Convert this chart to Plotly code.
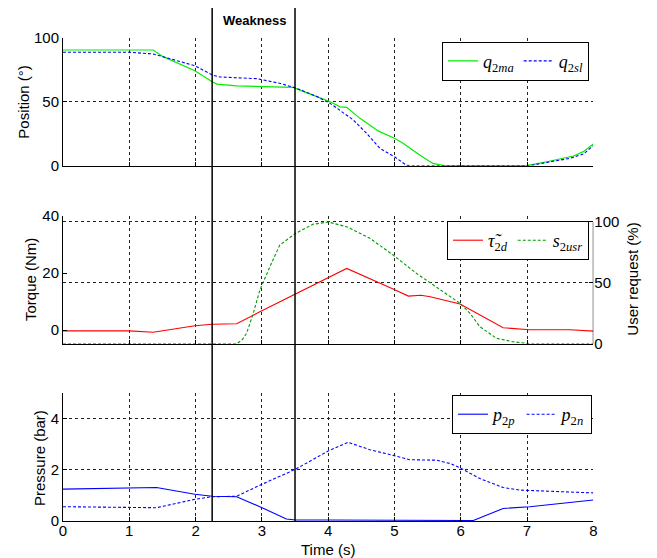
import plotly.graph_objects as go

# ---------------- data ----------------
t_q2ma = [0, 1.36, 1.51, 1.99, 2.25, 2.32, 2.62, 3.47, 3.83, 4.03, 4.18, 4.28, 4.48, 4.76, 5.0, 5.13, 5.38, 5.58, 5.75, 6.99, 7.3, 7.7, 7.85, 8.0]
q2ma = [90.4, 90.4, 85.2, 74.2, 65.6, 63.8, 62.3, 61.2, 54, 50, 46, 45.6, 37, 27, 21.4, 17.5, 8.4, 1.8, 0, 0, 3.1, 7.6, 11, 17]

t_q2sl = [0, 1.01, 1.36, 1.66, 1.99, 2.25, 2.37, 2.92, 3.27, 3.51, 3.83, 4.03, 4.38, 4.58, 4.78, 5.0, 5.18, 5.25, 7.04, 7.3, 7.65, 7.85, 8.0]
q2sl = [88.6, 88.6, 87.3, 83.1, 78.1, 70.9, 69.3, 68, 64.4, 60.7, 54, 48.7, 35.7, 25.3, 13.6, 7, 0.4, 0, 0, 2.6, 5.8, 9.1, 15.6]

t_tau = [0, 1.0, 1.36, 1.99, 2.25, 2.62, 2.97, 3.51, 4.0, 4.28, 4.98, 5.21, 5.4, 5.54, 5.99, 6.64, 7.04, 7.65, 8.0]
tau2d = [-0.3, -0.3, -0.8, 1.5, 2.0, 2.2, 6.4, 12.7, 18.5, 21.6, 14.4, 11.9, 12.2, 11.7, 9.1, 0.8, 0.1, 0.1, -0.4]

t_usr = [0, 2.62, 2.7, 2.77, 2.87, 2.97, 3.12, 3.27, 3.51, 3.77, 4.0, 4.28, 4.63, 4.98, 5.33, 5.69, 5.99, 6.14, 6.29, 6.54, 6.79, 7.04, 8.0]
s2usr = [0, 0, 3, 8.5, 24.9, 44, 63, 80.9, 90.5, 97.9, 99.8, 95.9, 86.4, 72.7, 57.7, 44, 33.1, 24.9, 13.9, 4.4, 1.6, 0, 0]

t_p2p = [0, 1.41, 1.99, 2.25, 2.62, 2.97, 3.37, 3.51, 4.0, 4.7, 6.19, 6.64, 7.04, 8.0]
p2p = [1.25, 1.31, 1.05, 0.97, 0.95, 0.56, 0.08, 0.04, 0.04, 0.03, 0.02, 0.49, 0.56, 0.82]

t_p2n = [0, 1.41, 1.99, 2.25, 2.62, 2.97, 3.51, 4.0, 4.3, 4.63, 4.98, 5.23, 5.64, 5.84, 5.99, 6.29, 6.64, 6.89, 8.0]
p2n = [0.56, 0.52, 0.85, 0.95, 0.97, 1.40, 2.03, 2.74, 3.08, 2.79, 2.57, 2.40, 2.38, 2.25, 2.08, 1.66, 1.31, 1.21, 1.10]

weakness_bounds = [2.25, 3.5]
x_ticks = [0, 1, 2, 3, 4, 5, 6, 7, 8]

# ---------------- layout helpers ----------------
W, H = 657, 558
def P(py):
    return 1 - py / H

FONT = "Liberation Sans, Arial, sans-serif"
SERIF = "Liberation Serif, Times New Roman, serif"
GRID = dict(showgrid=True, gridcolor="#222", gridwidth=1, griddash="3px,3px")
XDOM = [63 / W, 593.3 / W]

fig = go.Figure()

fig.add_trace(go.Scatter(x=t_q2ma, y=q2ma, mode="lines", line=dict(color="#00ee00", width=1.2),
                         name="<i>q</i><sub>2<i>ma</i></sub>", xaxis="x", yaxis="y", legend="legend"))
fig.add_trace(go.Scatter(x=t_q2sl, y=q2sl, mode="lines", line=dict(color="#0000ff", width=1.1, dash="3px,2px"),
                         name="<i>q</i><sub>2<i>sl</i></sub>", xaxis="x", yaxis="y", legend="legend"))

fig.add_trace(go.Scatter(x=t_tau, y=tau2d, mode="lines", line=dict(color="#ff0000", width=1.1),
                         name="<i>τ̃</i><sub>2<i>d</i></sub>", xaxis="x2", yaxis="y2", legend="legend2"))
fig.add_trace(go.Scatter(x=t_usr, y=s2usr, mode="lines", line=dict(color="#009a00", width=1.1, dash="3px,2px"),
                         name="<i>s</i><sub>2<i>usr</i></sub>", xaxis="x2", yaxis="y3", legend="legend2"))

fig.add_trace(go.Scatter(x=t_p2p, y=p2p, mode="lines", line=dict(color="#0000ff", width=1.1),
                         name="<i>p</i><sub>2<i>p</i></sub>", xaxis="x3", yaxis="y4", legend="legend3"))
fig.add_trace(go.Scatter(x=t_p2n, y=p2n, mode="lines", line=dict(color="#0000ff", width=1.1, dash="3px,2px"),
                         name="<i>p</i><sub>2<i>n</i></sub>", xaxis="x3", yaxis="y4", legend="legend3"))

xcommon = dict(domain=XDOM, range=[0, 8], tickvals=x_ticks, showline=True, linecolor="black", linewidth=1,
               ticks="inside", ticklen=4, tickcolor="black", zeroline=False, automargin=False, **GRID,
               tickfont=dict(family=FONT, size=15, color="black"))
ycommon = dict(showline=True, linecolor="black", linewidth=1, ticks="inside", ticklen=4, tickcolor="black",
               zeroline=False, automargin=False, tickfont=dict(family=FONT, size=15, color="black"))

legcommon = dict(orientation="h", bordercolor="black", borderwidth=1, bgcolor="white",
                 font=dict(family=SERIF, size=18, color="black"), xanchor="right", yanchor="top",
                 tracegroupgap=0, itemwidth=30)

fig.update_layout(
    width=W, height=H, margin=dict(l=0, r=0, t=0, b=0, autoexpand=False),
    paper_bgcolor="white", plot_bgcolor="white",
    xaxis=dict(anchor="y", showticklabels=False, **xcommon),
    xaxis2=dict(anchor="y2", showticklabels=False, **xcommon),
    xaxis3=dict(anchor="y4", showticklabels=True, ticklabelstandoff=-4, **xcommon),
    yaxis=dict(domain=[P(165.7), P(37.7)], range=[0, 100], tickvals=[0, 50, 100], anchor="x", **GRID, **ycommon),
    yaxis2=dict(domain=[P(343.7), P(216)], range=[-4.8, 40], tickvals=[0, 20, 40], anchor="x2", showgrid=False, **ycommon),
    yaxis3=dict(overlaying="y2", side="right", anchor="x2", range=[0, 104.7], tickvals=[0, 50, 100],
                showline=False, ticks="inside", ticklen=4, tickcolor="black", zeroline=False, automargin=False,
                tickfont=dict(family=FONT, size=15, color="black"), **GRID),
    yaxis4=dict(domain=[P(521), P(393.3)], range=[0, 5], tickvals=[0, 2, 4], anchor="x3", **GRID, **ycommon),
    legend=dict(x=589 / W, y=P(41.7), **legcommon),
    legend2=dict(x=589 / W, y=P(221), **legcommon),
    legend3=dict(x=592 / W, y=P(395), **legcommon),
    showlegend=True,
)

shapes = []
for xb in weakness_bounds:
    shapes.append(dict(type="line", xref="x3", yref="paper", x0=xb, x1=xb, y0=P(521), y1=P(8),
                       line=dict(color="black", width=1.5)))
shapes.append(dict(type="line", xref="x2", yref="paper", x0=8, x1=8, y0=P(343.7), y1=P(222.3),
                   line=dict(color="black", width=1)))
fig.update_layout(shapes=shapes)

def lab(text, px, py, angle=0, size=15, bold=False):
    return dict(text=f"<b>{text}</b>" if bold else text, x=px / W, y=P(py), xref="paper", yref="paper",
                xanchor="center", yanchor="middle", showarrow=False, textangle=angle,
                font=dict(family=FONT, size=size, color="black"))

ann = [
    lab("Weakness", 254, 20, size=13, bold=True),
    lab("Position (°)", 22.7, 102, angle=-90),
    lab("Torque (Nm)", 30, 280, angle=-90),
    lab("User request (%)", 631.7, 279, angle=-90),
    lab("Pressure (bar)", 39, 458, angle=-90),
    lab("Time (s)", 328, 549),
]
fig.update_layout(annotations=ann)

fig.write_html("out.html")
